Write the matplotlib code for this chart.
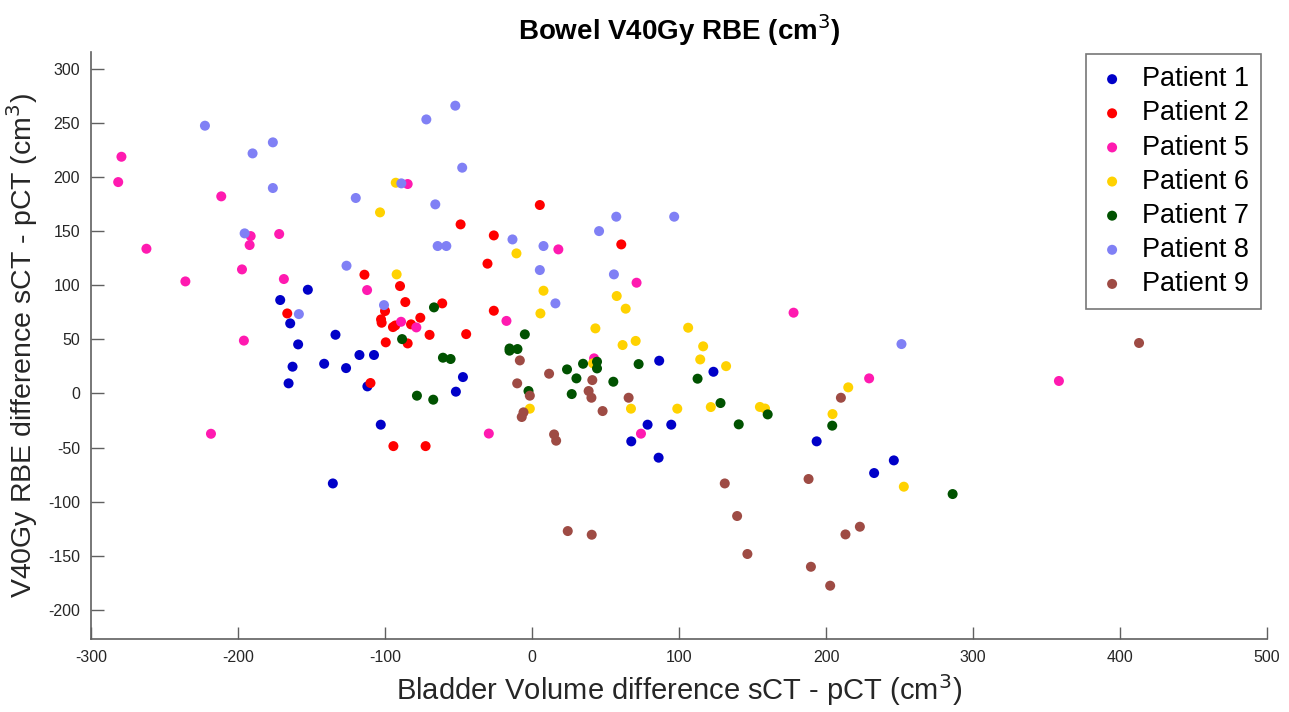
import numpy as np
import matplotlib.pyplot as plt

plt.rcParams['font.family'] = ['Liberation Sans', 'DejaVu Sans']
plt.rcParams['axes.unicode_minus'] = False

labels = ['Patient 1', 'Patient 2', 'Patient 5', 'Patient 6', 'Patient 7', 'Patient 8', 'Patient 9']
colors = ['#0000C8', '#FF0000', '#FF1AB0', '#FFD200', '#005200', '#8080F5', '#9E4B44']

# Patient 1
x1 = [-152.5, -171.3, -164.5, -133.7, -159.1, -117.4, -107.5, -141.4, -162.9, -126.5, -165.6, -112, -47,
      -51.8, -102.9, -135.5, 86.5, 123.4, 78.6, 94.7, 67.5, 86.1, 193.6, 246.1, 232.7]
y1 = [95.8, 86.3, 64.7, 54.2, 45.3, 35.5, 35.5, 27.4, 24.7, 23.4, 9.3, 6.5, 15.1,
      1.6, -28.9, -83.2, 30.2, 20, -28.9, -28.9, -44.3, -59.4, -44.3, -61.9, -73.6]

# Patient 2
x2 = [-48.6, -30.3, -114, -89.8, -86.2, -61.1, -166.5, -100, -102.7, -102.3, -94.6, -93, -82.3,
      -76, -69.7, -44.8, -99.5, -84.6, -109.9, -94.3, -72.4, 5.3, -26, -26, 60.7]
y2 = [156.2, 119.9, 109.7, 99.2, 84.4, 83.2, 73.9, 76.1, 68.4, 65.3, 61.3, 62.8, 63.8,
      69.9, 54.1, 54.8, 47.2, 46.2, 9.6, -48.7, -48.7, 174.1, 146, 76.4, 137.7]

# Patient 5
x5 = [-279.3, -281.5, -211.4, -84.6, -191.4, -192.1, -172, -262.3, -235.8, -197.3, -168.8, -112.2, -89.1,
      -78.7, -196, -218.4, -29.4, 17.9, 71.1, -17.4, 42.2, 74.1, 177.9, 229.3, 358.4]
y5 = [218.7, 195.3, 182.1, 193.5, 145.4, 137.1, 147.3, 133.7, 103.5, 114.6, 105.7, 95.5, 66.2,
      61, 48.8, -37.3, -37.1, 133.1, 102.3, 67, 32.4, -37.2, 74.6, 13.9, 11.5]

# Patient 6
x6 = [-92.7, -103.4, -92.1, -10.6, 7.8, 57.6, 63.7, 5.7, 43.1, 106.2, 61.6, 70.5, 116.4,
      114.4, 132, 41.5, 67.3, -1.5, 98.8, 121.6, 155, 158.5, 215.1, 204.4, 252.9]
y6 = [194.7, 167.3, 110, 129.4, 94.9, 90, 78.3, 73.9, 60.1, 60.7, 44.7, 48.5, 43.5,
      31.4, 25.2, 27.8, -14.1, -14.1, -14.1, -12.6, -12.5, -14, 5.6, -19.1, -86.2]

# Patient 7
x7 = [-66.7, -88.4, -60.6, -55.4, -78.3, -67.2, -4.9, -15.3, -15.3, -9.9, 23.8, 34.7, 44.2,
      44.2, 30.2, 55.3, 72.5, 112.6, -2.4, 27, 128.2, 140.6, 160.3, 204.2, 286.1]
y7 = [79.5, 50.2, 33, 31.8, -2.1, -5.8, 54.6, 41.5, 39.5, 41, 22.2, 27.4, 29.3,
      23.1, 13.9, 10.8, 27.1, 13.6, 2.2, -0.6, -8.9, -28.6, -19.4, -29.8, -93]

# Patient 8
x8 = [-222.5, -176.3, -190.1, -176.3, -71.9, -52.2, -47.5, -88.9, -119.9, -65.8, -64.2, -58.3, -195.5,
      -126.2, -158.6, -100.7, -13.3, 7.8, 5.3, 45.6, 57.3, 96.7, 55.7, 15.9, 251.3]
y8 = [247.4, 232, 221.8, 189.8, 253.2, 265.9, 208.6, 194.1, 180.6, 174.7, 136.2, 136.2, 147.9,
      118, 73.3, 81.6, 142.3, 136.2, 114, 150, 163.3, 163.3, 110, 83.2, 45.6]

# Patient 9
x9 = [-8.3, 11.6, 41, -10.1, -1.5, 38.5, 40.4, 65.7, 48, -5.8, -7, 15, 16.4,
      24.3, 40.6, 131.1, 139.5, 210.1, 188.1, 223, 213.2, 146.5, 189.7, 202.8, 412.9]
y9 = [30.5, 18.2, 12.3, 9.3, -2.1, 2.2, -4, -4, -16.3, -17.5, -21.8, -37.9, -43.7,
      -127.2, -130.6, -83.2, -113.3, -4, -79.1, -123.2, -130.3, -148.4, -160.2, -177.7, 46.6]

xs = [x1, x2, x5, x6, x7, x8, x9]
ys = [y1, y2, y5, y6, y7, y8, y9]

fig = plt.figure(figsize=(12.89, 7.12), dpi=100)
ax = fig.add_axes([0.0706, 0.102, 0.9124, 0.8245])

for x, y, c, lab in zip(xs, ys, colors, labels):
    ax.scatter(x, y, s=52, color=c, edgecolors='none', label=lab)

ax.set_xlim(-300, 500)
ax.set_ylim(-227.3, 315.2)
ax.set_xticks(np.arange(-300, 501, 100))
ax.set_yticks(np.arange(-200, 301, 50))

for side in ['top', 'right']:
    ax.spines[side].set_visible(False)
for side in ['left', 'bottom']:
    ax.spines[side].set_color('#606060')
    ax.spines[side].set_linewidth(1.2)
ax.tick_params(direction='in', length=9, width=1, colors='#606060', labelcolor='#262626',
               labelsize=11.5, pad=8)

ax.set_title('Bowel V40Gy RBE (cm$^3$)', fontsize=20, fontweight='bold', pad=9)
ax.set_xlabel('Bladder Volume difference sCT - pCT (cm$^3$)', fontsize=21, color='#262626', labelpad=5)
ax.set_ylabel('V40Gy RBE difference sCT - pCT (cm$^3$)', fontsize=20.5, color='#262626', labelpad=6)

leg = ax.legend(loc='upper right', bbox_to_anchor=(0.995, 0.997), borderaxespad=0,
                fontsize=19.5, frameon=True, fancybox=False, edgecolor='#555555',
                handletextpad=0.6, handlelength=1.0, labelspacing=0.3, markerscale=1.0,
                borderpad=0.45, scatterpoints=1)
leg.get_frame().set_linewidth(1.2)

fig.savefig('out.png', dpi=100)
